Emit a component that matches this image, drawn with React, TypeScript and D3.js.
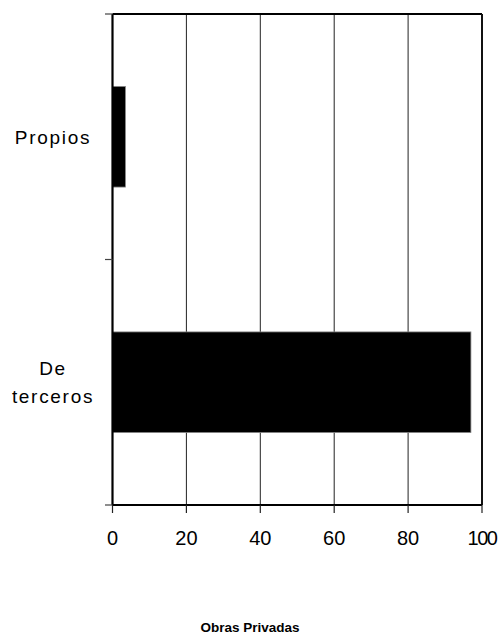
import React from "react";
import * as d3 from "d3";

const categories: string[][] = [["Propios"], ["De", "terceros"]];
const categoryKeys: string[] = ["Propios", "De terceros"];
const values: number[] = [3.5, 97];
const xTicks: number[] = [0, 20, 40, 60, 80, 100];
const xTitle = "Obras Privadas";

export default function App() {
  const W = 501;
  const H = 637;
  const left = 112.5;
  const right = 482;
  const top = 14;
  const bottom = 505;

  const x = d3.scaleLinear().domain([0, 100]).range([left, right]);
  const y = d3.scaleBand<string>().domain(categoryKeys).range([top, bottom]).padding(0);
  const barH = y.bandwidth() * 0.41;
  const font = "'Liberation Sans', Arial, sans-serif";
  const boundaries = [top, ...categoryKeys.map((k) => (y(k) as number) + y.bandwidth())];

  return (
    <svg width={W} height={H} style={{ position: "absolute", left: 0, top: 0, background: "#fff" }}>
      <rect x={0} y={0} width={W} height={H} fill="#fff" />
      {/* gridlines */}
      {xTicks.slice(1, -1).map((t) => (
        <line key={t} x1={x(t)} x2={x(t)} y1={top} y2={bottom} stroke="#222" strokeWidth={1} />
      ))}
      {/* bars */}
      {categoryKeys.map((k, i) => {
        const cy = (y(k) as number) + y.bandwidth() / 2;
        return (
          <rect key={k} x={x(0)} y={cy - barH / 2} width={x(values[i]) - x(0)} height={barH} fill="#000" stroke="#888" strokeWidth={0.8} />
        );
      })}
      {/* frame */}
      <line x1={left} x2={right} y1={top} y2={top} stroke="#000" strokeWidth={2} />
      <line x1={right} x2={right} y1={top} y2={bottom} stroke="#111" strokeWidth={2} />
      <line x1={left} x2={left} y1={top} y2={bottom} stroke="#000" strokeWidth={2.2} />
      <line x1={left} x2={right} y1={bottom} y2={bottom} stroke="#000" strokeWidth={2.2} />
      {/* y ticks */}
      {boundaries.map((b, i) => (
        <line key={i} x1={105} x2={left} y1={b} y2={b} stroke="#444" strokeWidth={1.2} />
      ))}
      {/* x ticks */}
      {xTicks.map((t) => (
        <g key={t}>
          <line x1={x(t)} x2={x(t)} y1={bottom} y2={bottom + 8} stroke="#222" strokeWidth={1.2} />
          <text x={x(t)} y={545} textAnchor="middle" fontFamily={font} fontSize={20} fill="#000" letterSpacing={t === 100 ? -1.5 : 0}>
            {t}
          </text>
        </g>
      ))}
      {/* category labels */}
      {categoryKeys.map((k, i) => {
        const cy = (y(k) as number) + y.bandwidth() / 2;
        const lines = categories[i];
        const lh = 28;
        const y0 = cy + 7 - ((lines.length - 1) * lh) / 2;
        return (
          <text key={k} textAnchor="middle" fontFamily={font} fontSize={19} fill="#000" letterSpacing={1.7}>
            {lines.map((ln, j) => (
              <tspan key={j} x={53} y={y0 + j * lh}>
                {ln}
              </tspan>
            ))}
          </text>
        );
      })}
      {/* title */}
      <text x={250} y={632} textAnchor="middle" fontFamily={font} fontSize={13.5} fontWeight="bold" fill="#000">
        {xTitle}
      </text>
    </svg>
  );
}
